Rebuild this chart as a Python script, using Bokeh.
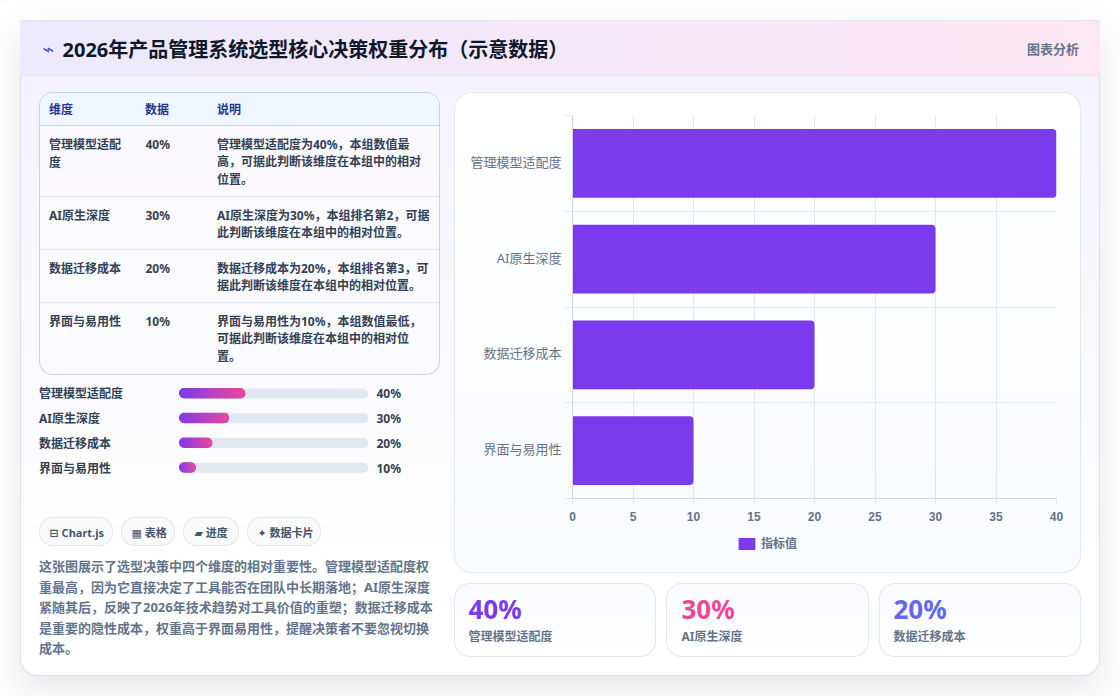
import math
import numpy as np
from bokeh.core.properties import value
from bokeh.embed import file_html
from bokeh.layouts import column
from bokeh.models import (FixedTicker, Grid, Legend, LegendItem, LinearAxis, Range1d)
from bokeh.plotting import figure
from bokeh.resources import INLINE

# ---------- data ----------
title = "2026年产品管理系统选型核心决策权重分布（示意数据）"
categories = ["管理模型适配度", "AI原生深度", "数据迁移成本", "界面与易用性"]
values = [40, 30, 20, 10]
x_ticks = [0, 5, 10, 15, 20, 25, 30, 35, 40]
series_name = "指标值"
table_head = ["维度", "数据", "说明"]
table_dim_lines = [["管理模型适配", "度"], ["AI原生深度"], ["数据迁移成本"], ["界面与易用性"]]
table_note_lines = [
    ["管理模型适配度为40%，本组数值最", "高，可据此判断该维度在本组中的相对", "位置。"],
    ["AI原生深度为30%，本组排名第2，可据", "此判断该维度在本组中的相对位置。"],
    ["数据迁移成本为20%，本组排名第3，可", "据此判断该维度在本组中的相对位置。"],
    ["界面与易用性为10%，本组数值最低，", "可据此判断该维度在本组中的相对位", "置。"],
]
tags = ["⊟ Chart.js", "▦ 表格", "▰ 进度", "✦ 数据卡片"]
paragraph = [
    "这张图展示了选型决策中四个维度的相对重要性。管理模型适配度权",
    "重最高，因为它直接决定了工具能否在团队中长期落地；AI原生深度",
    "紧随其后，反映了2026年技术趋势对工具价值的重塑；数据迁移成本",
    "是重要的隐性成本，权重高于界面易用性，提醒决策者不要忽视切换",
    "成本。",
]
header_right = "图表分析"

# ---------- styles ----------
CJK = "Noto Sans, Noto Sans CJK SC"
SYM = "Noto Sans, DejaVu Sans, Noto Sans CJK SC"
AXF = "Liberation Sans, Noto Sans CJK SC"
W, H = 1120, 696
OX, OY = 0, 0
PURPLE = "#7c3aed"
GRID = "#e2e8f0"
INK = "#334155"
MUTED = "#64748b"


def hexrgb(h):
    h = h.lstrip("#")
    return np.array([int(h[i:i + 2], 16) for i in (0, 2, 4)], dtype=float)


# page-space painter for the card chrome
yy, xx = np.mgrid[0:H, 0:W]
px = xx + OX + 0.5
py = yy + OY + 0.5
canvas = np.ones((H, W, 3)) * 255.0


def mask_rr(x0, y0, x1, y1, r):
    cx, cy = (x0 + x1) / 2, (y0 + y1) / 2
    qx = np.abs(px - cx) - (x1 - x0) / 2 + r
    qy = np.abs(py - cy) - (y1 - y0) / 2 + r
    d = np.hypot(np.maximum(qx, 0), np.maximum(qy, 0)) + np.minimum(np.maximum(qx, qy), 0) - r
    return np.clip(0.5 - d, 0, 1)


def paint(mask, col):
    global canvas
    c = col if isinstance(col, np.ndarray) else hexrgb(col)
    if c.ndim == 1:
        c = c[None, None, :]
    canvas = canvas * (1 - mask[..., None]) + c * mask[..., None]


def lerp_v(c0, c1, y0, y1):
    t = np.clip((py - y0) / (y1 - y0), 0, 1)[..., None]
    return hexrgb(c0) * (1 - t) + hexrgb(c1) * t


def lerp_h(c0, c1, x0, x1):
    t = np.clip((px - x0) / (x1 - x0), 0, 1)[..., None]
    return hexrgb(c0) * (1 - t) + hexrgb(c1) * t


def rr_box(x0, y0, x1, y1, r, border, fill):
    paint(mask_rr(x0, y0, x1, y1, r), border)
    paint(mask_rr(x0 + 1, y0 + 1, x1 - 1, y1 - 1, r - 1), fill)


# soft card shadow
erf = np.vectorize(math.erf)
sig, off = 17.0, 14.0
sx = 0.5 * (erf((px[0, :] - 20) / (sig * 2 ** .5)) - erf((px[0, :] - 1099) / (sig * 2 ** .5)))
sy = 0.5 * (erf((py[:, 0] - 20 - off) / (sig * 2 ** .5)) - erf((py[:, 0] - 675 - off) / (sig * 2 ** .5)))
paint(np.outer(sy, sx) * 0.11, "#0f172a")

# card
rr_box(20, 20, 1100, 676, 18, "#dfdcf4", lerp_v("#f3f2fe", "#ffffff", 76, 560))
# header band
hdr = lerp_h("#ede9fe", "#fce7f3", 20, 1099)
paint(mask_rr(20, 20, 1100, 76, 3), "#e5e3f4")
paint(mask_rr(20, 21, 1100, 75, 3), hdr)
# table panel
rr_box(39, 92, 440, 375, 14, "#cbd5e1", lerp_v("#fbf9ff", "#f9fbff", 126, 374))
head_mask = mask_rr(40, 93, 439, 140, 13) * (py < 125)
paint(head_mask, "#eff6ff")
for ly, col in [(125, "#cbd5e1"), (196, "#e2e8f0"), (249, "#e2e8f0"), (302, "#e2e8f0")]:
    paint(((py >= ly) & (py < ly + 1) & (px > 40) & (px < 439)).astype(float), col)
# chart panel and stat cards
rr_box(454, 92, 1081, 573, 18, "#e2e8f0", lerp_v("#ffffff", "#f8fbff", 93, 572))
for cx0, cx1 in [(454, 656), (666, 869), (879, 1081)]:
    rr_box(cx0, 583, cx1, 657, 16, "#e0e8f5", lerp_v("#f9fbff", "#ffffff", 584, 656))
# tag pills
for tx0, tx1 in [(39, 113), (121, 175), (183, 239), (247, 321)]:
    rr_box(tx0, 517, tx1, 546, 14, "#e2e8f0", "#f8fafc")

rgba = np.dstack([canvas, np.full((H, W), 255.0)]).round().astype(np.uint8)
bg_img = np.zeros((H, W), dtype=np.uint32)
bg_img.flat = rgba.reshape(-1, 4).view(np.uint32).ravel()

# ---------- page figure: one pixel per data unit, origin at the page corner ----------
page = figure(width=W, height=H, output_backend="svg", toolbar_location=None,
              x_range=Range1d(OX, OX + W), y_range=Range1d(OY + H, OY), frame_align=False,
              x_axis_location=None, y_axis_location=None, min_border=0,
              outline_line_color=None, background_fill_color=None, border_fill_color=None)
page.grid.visible = False
# half a pixel back: Bokeh's canvas is translated by (0.5, 0.5) for crisp lines
page.image_rgba(image=[bg_img], x=OX - 0.5, y=OY - 0.5, dw=W, dh=H)


def T(x, y, s, size, color=INK, bold=True, font=CJK, align="left", **kw):
    page.text(x=[x], y=[y], text=[s], text_font=value(font), text_font_size=f"{size}px",
              text_color=color, text_font_style="bold" if bold else "normal",
              text_align=align, text_baseline="middle", **kw)


# header
T(42, 48, "⌁", 20, "#4a5ad6", False, "DejaVu Sans, Noto Sans CJK SC")
T(62, 49, title, 20, "#0f172a")
T(1078.5, 48, header_right, 13, MUTED, align="right")

# table
for hx, s in zip([49, 145, 217], table_head):
    T(hx - 0.5, 109, s, 12, "#1e3a8a")
row_tops = [143.5, 214.5, 267.5, 320.5]
for top, dim, v, note in zip(row_tops, table_dim_lines, values, table_note_lines):
    for i, s in enumerate(dim):
        T(48.5, top + i * 18, s, 12)
    T(145, top, f"{v}%", 12)
    for i, s in enumerate(note):
        T(216.5, top + i * 17.9, s, 12)

# progress rows: own value scale (x) and row scale (y)
bar_x0, bar_per_unit = 179.0, 66.0 / 40.0
row0, row_step = 393.0, 24.75
page.extra_x_ranges["pct"] = Range1d((OX - bar_x0) / bar_per_unit, (OX + W - bar_x0) / bar_per_unit)
page.extra_y_ranges["rows"] = Range1d((OY + H - row0) / row_step, (OY - row0) / row_step)
rows = list(range(len(categories)))
bar_h = 10.0 / row_step
track_end = (368 - bar_x0) / bar_per_unit
page.hbar(y=rows, left=0, right=track_end, height=bar_h, x_range_name="pct", y_range_name="rows",
          fill_color=GRID, line_color=None, border_radius=5)
page.hbar(y=rows, left=0, right=values, height=bar_h, x_range_name="pct", y_range_name="rows",
          fill_color="#b440b8", line_color=None, border_radius=5)
c0, c1 = hexrgb(PURPLE), hexrgb("#ec4899")
for r, v in zip(rows, values):
    w = int(round(v * bar_per_unit))
    t = (np.arange(w) + .5) / w
    xs = np.arange(w) + .5
    ys = np.arange(10) + .5
    X, Y = np.meshgrid(xs, ys)
    qx = np.abs(X - w / 2) - w / 2 + 5
    qy = np.abs(Y - 5) - 5 + 5
    d = np.hypot(np.maximum(qx, 0), np.maximum(qy, 0)) - 5
    a = np.clip(.5 - d, 0, 1) * 255
    col = np.outer(t, c1) + np.outer(1 - t, c0)
    arr = np.zeros((10, w, 4), dtype=np.uint8)
    arr[..., :3] = col[None, :, :].round().astype(np.uint8)
    arr[..., 3] = a.round().astype(np.uint8)
    img = np.zeros((10, w), dtype=np.uint32)
    img.flat = arr.reshape(-1, 4).view(np.uint32).ravel()
    page.image_rgba(image=[img], x=-0.5 / bar_per_unit, y=r - bar_h / 2 - 0.5 / row_step, dw=v, dh=bar_h,
                    x_range_name="pct", y_range_name="rows")
page.text(x=[38.5] * 4, y=[r + 0.02 for r in rows], text=categories, y_range_name="rows",
          text_font=value(CJK), text_font_size="12px", text_color=INK, text_font_style="bold",
          text_baseline="middle")
page.text(x=[376] * 4, y=[r + 0.02 for r in rows], text=[f"{v}%" for v in values], y_range_name="rows",
          text_font=value(CJK), text_font_size="12px", text_color=INK, text_font_style="bold",
          text_baseline="middle")

# tags
for tx, s in zip([49, 131, 194, 257], tags):
    T(tx, 531.5, s, 11, "#475569", font=SYM)

# paragraph
for py_, s in zip([565.5, 586, 606.5, 627, 647.5], paragraph):
    T(38.5, py_, s, 13, MUTED)

# stat cards
for sx_, v, name, col in zip([468, 681, 893], values[:3], categories[:3], [PURPLE, "#ec4899", "#6366f1"]):
    T(sx_, 608.5, f"{v}%", 26, col)
    T(sx_, 636, name, 12, MUTED)

# legend of the bar series, on the page canvas so that it sits outside the chart frame
key = page.hbar(y=[-100], left=[0], right=[1], height=1, fill_color=PURPLE, line_color=None)
legend = Legend(items=[LegendItem(label=series_name, renderers=[key])], location=(736, 144),
                background_fill_color=None, border_line_color=None, glyph_width=21, glyph_height=15,
                label_text_font=CJK, label_text_font_size="12px", label_text_font_style="bold",
                label_text_color=MUTED, padding=0, margin=0, label_standoff=4, label_height=12)
page.add_layout(legend, "center")

# ---------- bar chart ----------
n = len(categories)
centers = [n - 0.5 - i for i in range(n)]
label_ticks = [c + 0.016 for c in centers]
chart = figure(width=627, height=480, output_backend="svg", toolbar_location=None,
               x_range=Range1d(0, 40), y_range=Range1d(0, n), frame_align=False,
               x_axis_location=None, y_axis_location=None,
               min_border_left=118, min_border_right=25, min_border_top=22, min_border_bottom=75,
               outline_line_color=None, background_fill_color=None, border_fill_color=None,
               margin=(-603, 0, 0, 454))
chart.grid.visible = False
band_ticker = FixedTicker(ticks=list(range(n + 1)))
tick_axis = LinearAxis(ticker=band_ticker, major_label_overrides={i: "" for i in range(n + 1)},
                       major_label_text_font_size="0px", major_label_standoff=0, major_tick_in=0, major_tick_out=8,
                       major_tick_line_color=GRID, axis_line_color="#cbd5e1", minor_tick_line_color=None)
chart.add_layout(tick_axis, "left")
cat_axis = LinearAxis(ticker=FixedTicker(ticks=label_ticks), major_label_overrides=dict(zip(label_ticks, categories)),
                      major_tick_line_color=None, axis_line_color=None, major_tick_out=0, major_tick_in=0,
                      minor_tick_line_color=None, major_label_standoff=3, major_label_text_font=CJK,
                      major_label_text_font_size="13px", major_label_text_color=MUTED)
chart.add_layout(cat_axis, "left")
x_axis = LinearAxis(ticker=FixedTicker(ticks=x_ticks), major_tick_in=0, major_tick_out=6, major_tick_line_color=GRID,
                    axis_line_color="#cbd5e1", minor_tick_line_color=None, major_label_standoff=7,
                    major_label_text_font=AXF, major_label_text_font_size="12px",
                    major_label_text_font_style="bold", major_label_text_color=MUTED)
chart.add_layout(x_axis, "below")
chart.add_layout(Grid(dimension=0, ticker=FixedTicker(ticks=x_ticks), grid_line_color=GRID), "center")
chart.add_layout(Grid(dimension=1, ticker=band_ticker, grid_line_color=GRID), "center")
chart.hbar(y=centers, left=0, right=values, height=0.72, fill_color=PURPLE, line_color=None,
           border_radius=(0, 4, 4, 0))

layout = column(page, chart, spacing=0)
open("out.html", "w").write(file_html(layout, INLINE))
